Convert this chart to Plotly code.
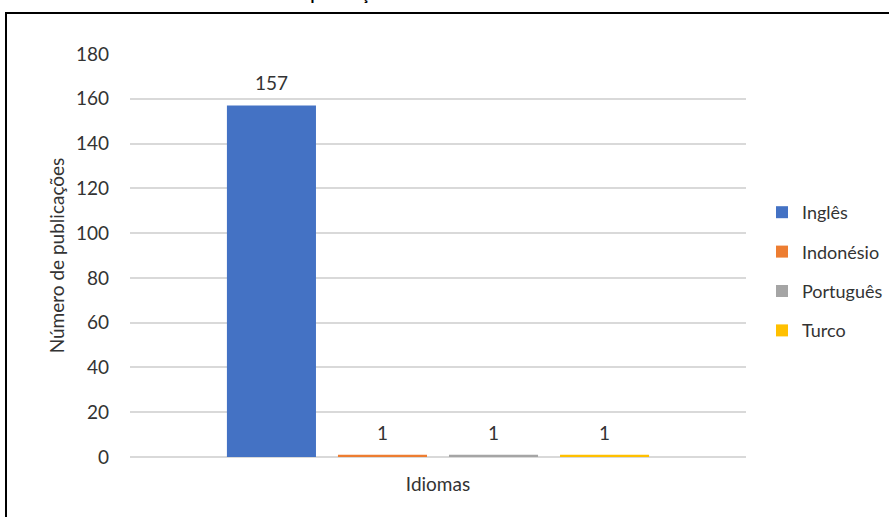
import plotly.graph_objects as go

# Publications by language
categoria = ["Idiomas"]
idiomas = ["Inglês", "Indonésio", "Português", "Turco"]
publicacoes = [157, 1, 1, 1]
cores = ["#4472C4", "#ED7D31", "#A5A5A5", "#FFC000"]
y_ticks = [0, 20, 40, 60, 80, 100, 120, 140, 160, 180]

W, H = 889, 517
L, R, T, B = 130, 143, 54, 60
pw, ph = W - L - R, H - T - B

FONT = "Lato"
TXT = "#333333"
FS = 19

BARGAP = 0.279
GROUPGAP = 0.198
slot = pw * (1 - BARGAP) / len(idiomas)

fig = go.Figure()
for i, (nome, val, cor) in enumerate(zip(idiomas, publicacoes, cores)):
    fig.add_trace(go.Bar(
        x=categoria, y=[val], name=nome,
        marker=dict(color=cor, line=dict(width=0)),
        legendgroup=f"g{i}",
    ))

# value labels above each bar
labels = []
for i, val in enumerate(publicacoes):
    labels.append(dict(
        x=categoria[0], y=val, xref="x", yref="y",
        xshift=(i - (len(publicacoes) - 1) / 2) * slot,
        yanchor="bottom", yshift=9,
        text=str(val), showarrow=False,
        font=dict(family=FONT, size=FS, color=TXT),
    ))

def px_x(x):
    return (x - L) / pw

def px_y(y):
    return 1 - (y - T) / ph

title = dict(
    text="<b>Idiomas das publicações</b>", xref="paper", yref="paper",
    x=px_x(221), xanchor="left", y=px_y(5), yanchor="bottom",
    showarrow=False, font=dict(family=FONT, size=16, color="black"),
)

fig.update_layout(
    width=W, height=H,
    margin=dict(l=L, r=R, t=T, b=B, autoexpand=False),
    paper_bgcolor="white", plot_bgcolor="white",
    barmode="group", bargap=BARGAP, bargroupgap=GROUPGAP,
    font=dict(family=FONT, size=FS, color=TXT),
    showlegend=True,
    legend=dict(
        x=px_x(762), xanchor="left", y=px_y(194), yanchor="top",
        font=dict(family=FONT, size=18, color=TXT),
        tracegroupgap=13, itemwidth=30,
    ),
    xaxis=dict(
        showticklabels=False, showgrid=False, zeroline=False,
        title=dict(text="Idiomas", font=dict(family=FONT, size=FS, color=TXT), standoff=20),
    ),
    yaxis=dict(
        range=[0, 180], tickvals=y_ticks,
        showgrid=True, gridcolor="#D9D9D9", gridwidth=1.5,
        zeroline=True, zerolinecolor="#D9D9D9", zerolinewidth=1.5,
        tickfont=dict(family=FONT, size=FS, color=TXT),
        ticks="", ticklabelstandoff=20,
        title=dict(text="Número de publicações", font=dict(family=FONT, size=FS, color=TXT), standoff=6),
    ),
    shapes=[dict(
        type="rect", xref="paper", yref="paper",
        x0=px_x(6), x1=px_x(W + 20), y0=px_y(H + 20), y1=px_y(13),
        line=dict(color="black", width=2), fillcolor="rgba(0,0,0,0)", layer="below",
    )],
    annotations=labels + [title],
)

fig.write_html("out.html")
